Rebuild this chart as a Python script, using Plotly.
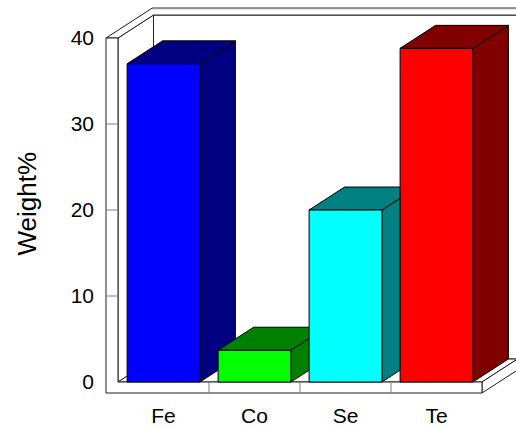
import plotly.graph_objects as go

# Data
categories = ["Fe", "Co", "Se", "Te"]
weights = [37.0, 3.7, 20.0, 38.8]
front_colors = ["#0000FF", "#00FF00", "#00FFFF", "#FF0000"]
shade_colors = ["#000080", "#008000", "#008080", "#800000"]
y_ticks = [0, 10, 20, 30, 40]
y_tick_labels = ["0", "10", "20", "30", "40"]

# Pseudo-3D geometry (data units)
BAR_W = 0.8
DX, DY = 0.39, 2.67          # depth offset of the back plane
WALL_T = 0.132               # left wall thickness
FLOOR_T = 1.28               # floor slab thickness
BACK_K = 1.3                 # back wall slab depth factor
Y_TOP = y_ticks[-1]
X_L = -0.5
X_R = len(categories) - 0.5

FRAME_LINE = "#202020"
TICK_LINE = "#808080"

fig = go.Figure()


def poly(xs, ys, fill, line=FRAME_LINE, width=1):
    fig.add_trace(go.Scatter(
        x=list(xs) + [xs[0]], y=list(ys) + [ys[0]],
        mode="lines", fill="toself", fillcolor=fill,
        line=dict(color=line, width=width),
        hoverinfo="skip", showlegend=False,
    ))


def seg(xs, ys, color, width=1):
    fig.add_trace(go.Scatter(
        x=xs, y=ys, mode="lines", line=dict(color=color, width=width),
        hoverinfo="skip", showlegend=False,
    ))


x_out = X_L - WALL_T
x_far = X_R + DX + 0.3

# back wall
poly([X_L + DX, x_far, x_far, X_L + DX],
     [DY, DY, Y_TOP + DY, Y_TOP + DY], "white")
# left wall inner face
poly([X_L, X_L + DX, X_L + DX, X_L],
     [0, DY, Y_TOP + DY, Y_TOP], "white")
# floor top
poly([X_L, X_R, X_R + DX, X_L + DX], [0, 0, DY, DY], "white")
# floor right face
poly([X_R, X_R + DX, X_R + DX, X_R],
     [-FLOOR_T, -FLOOR_T + DY, DY, 0], "white")
# top rim of left + back wall
poly([x_out, X_L, X_L + DX, x_far, x_far, x_out + BACK_K * DX],
     [Y_TOP, Y_TOP, Y_TOP + DY, Y_TOP + DY, Y_TOP + BACK_K * DY, Y_TOP + BACK_K * DY],
     "white")
seg([x_out + BACK_K * DX, x_far], [Y_TOP + BACK_K * DY] * 2, "#909090", 2)
# front L-face: left wall + floor front
poly([x_out, X_R, X_R, X_L, X_L, x_out],
     [-FLOOR_T, -FLOOR_T, 0, 0, Y_TOP, Y_TOP], "white")

# y tick marks on the wall front
for t in y_ticks[1:-1]:
    seg([x_out, X_L], [t, t], TICK_LINE)
# category separators on the floor front
for i in range(len(categories) - 1):
    seg([i + 0.5, i + 0.5], [-FLOOR_T, 0], TICK_LINE)

# bars
hw = BAR_W / 2
for i, (h, fc, sc) in enumerate(zip(weights, front_colors, shade_colors)):
    x0, x1 = i - hw, i + hw
    # side face
    poly([x1, x1 + DX, x1 + DX, x1], [0, DY, h + DY, h], sc, "black")
    # top face
    poly([x0, x1, x1 + DX, x0 + DX], [h, h, h + DY, h + DY], sc, "black")
    # front face
    poly([x0, x1, x1, x0], [0, 0, h, h], fc, "black")

W, H = 516, 429
ML, MB = 100, 34
px_per_cat = 91.0
px_per_unit = 8.6
x0_px = 163.5   # pixel of category 0 centre
y0_px = 382.0   # pixel of value 0

fig.update_layout(
    width=W, height=H,
    margin=dict(l=ML, r=0, t=0, b=MB),
    paper_bgcolor="white", plot_bgcolor="white",
    font=dict(family="Liberation Sans, Arial, sans-serif", color="black"),
    showlegend=False,
    xaxis=dict(
        range=[(ML - x0_px) / px_per_cat, (W - x0_px) / px_per_cat],
        tickvals=list(range(len(categories))), ticktext=categories,
        tickfont=dict(size=21), showgrid=False, zeroline=False,
        showline=False, ticks="", fixedrange=True, ticklabelstandoff=6,
    ),
    yaxis=dict(
        range=[(y0_px - (H - MB)) / px_per_unit, y0_px / px_per_unit],
        tickvals=y_ticks, ticktext=y_tick_labels,
        tickfont=dict(size=21), showgrid=False, zeroline=False,
        showline=False, ticks="", fixedrange=True, ticklabelstandoff=5,
    ),
    annotations=[dict(
        text="Weight%", textangle=-90, showarrow=False,
        xref="paper", yref="paper",
        x=(26 - ML) / (W - ML), y=1 - 203.5 / (H - MB),
        xanchor="center", yanchor="middle",
        font=dict(size=26, family="Liberation Sans, Arial, sans-serif"),
    )],
)

fig.write_html("out.html")
